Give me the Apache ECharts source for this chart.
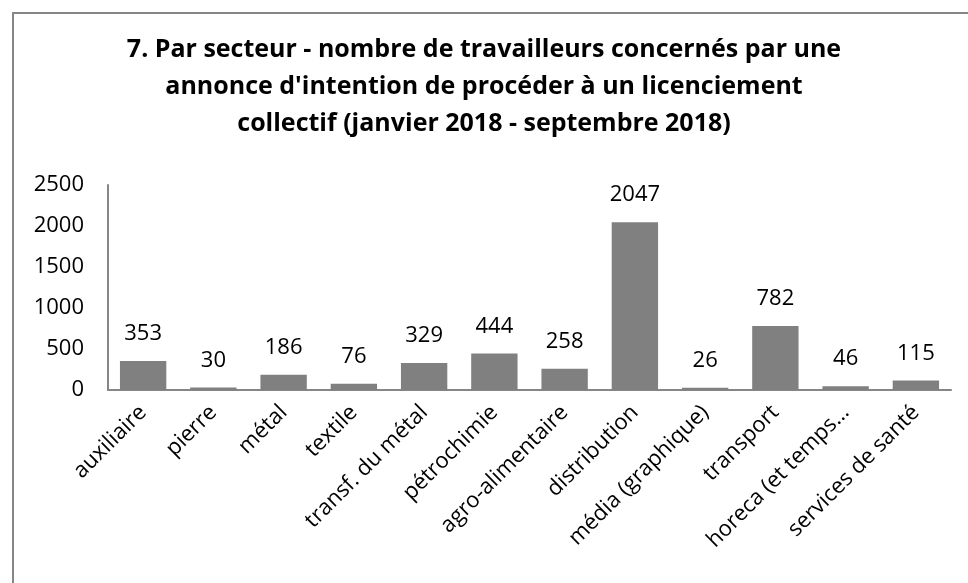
<!DOCTYPE html>
<html>
<head>
<meta charset="utf-8">
<script src="https://cdn.jsdelivr.net/npm/echarts@6/dist/echarts.min.js"></script>
<style>
  html, body { margin: 0; padding: 0; background: #fff; }
  #chart { width: 968px; height: 583px; }
</style>
</head>
<body>
<div id="chart"></div>
<script>
// secteurs
const categories = [
  'auxiliaire', 'pierre', 'métal', 'textile', 'transf. du métal', 'pétrochimie',
  'agro-alimentaire', 'distribution', 'média (graphique)', 'transport',
  'horeca (et temps…', 'services de santé'
]
const travailleurs = [353, 30, 186, 76, 329, 444, 258, 2047, 26, 782, 46, 115]
const yTicks = [0, 500, 1000, 1500, 2000, 2500]

const titleText = "7. Par secteur - nombre de travailleurs concernés par une\nannonce d'intention de procéder à un licenciement\ncollectif (janvier 2018 - septembre 2018)"
const font = 'Open Sans'

const chart = echarts.init(document.getElementById('chart'))
chart.setOption({
  animation: false,
  textStyle: { fontFamily: font },
  title: {
    text: titleText,
    left: 'center',
    top: 26,
    textStyle: {
      fontFamily: font,
      fontWeight: 'bold',
      fontSize: 25,
      lineHeight: 37,
      color: '#000'
    }
  },
  graphic: [{
    type: 'rect',
    shape: { x: 13, y: 13, width: 1000, height: 700 },
    style: { fill: 'none', stroke: '#868686', lineWidth: 2 },
    silent: true
  }],
  grid: {
    left: 108,
    right: 17,
    top: 185,
    bottom: 193,
    containLabel: false
  },
  xAxis: {
    type: 'category',
    data: categories,
    axisLine: { lineStyle: { color: '#868686', width: 2 } },
    axisTick: { show: false },
    axisLabel: {
      interval: 0,
      rotate: 45,
      margin: 19,
      fontSize: 22,
      color: '#000',
      fontFamily: font
    }
  },
  yAxis: {
    type: 'value',
    min: yTicks[0],
    max: yTicks[yTicks.length - 1],
    interval: 500,
    splitLine: { show: false },
    axisLine: { show: true, lineStyle: { color: '#868686', width: 2 } },
    axisTick: { show: false },
    axisLabel: {
      margin: 24,
      fontSize: 22,
      color: '#000',
      fontFamily: font,
      formatter: v => String(v)
    }
  },
  series: [{
    type: 'bar',
    data: travailleurs,
    barWidth: '66%',
    itemStyle: { color: '#808080' },
    label: {
      show: true,
      position: 'top',
      distance: 16,
      fontSize: 22,
      color: '#000',
      fontFamily: font
    }
  }]
})
</script>
</body>
</html>
